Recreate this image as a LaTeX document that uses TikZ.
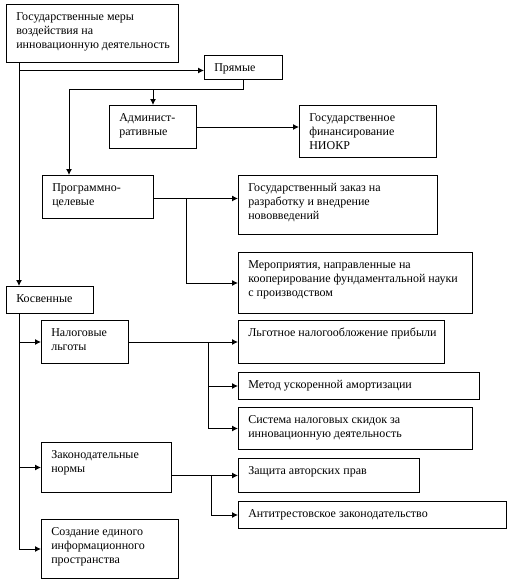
\documentclass[tikz,border=0pt]{standalone}
\usepackage{fontspec}
\setmainfont{Liberation Serif}
\usetikzlibrary{arrows.meta,calc}
\begin{document}
\begin{tikzpicture}[x=0.75pt,y=-0.75pt,
  box/.style={draw,line width=0.75pt,inner sep=0pt,anchor=north west},
  txt/.style={inner sep=0pt,anchor=north west,align=left,font=\fontsize{9}{10.5}\selectfont},
  arr/.style={line width=0.75pt,-{Latex[length=4.5pt,width=4.5pt]}},
  ln/.style={line width=0.75pt}]
\useasboundingbox (0,0) rectangle (513,586);
\newcommand{\mybox}[6]{%
  \node[box,minimum width=#3*0.75pt,minimum height=#4*0.75pt] (#5) at (#1,#2) {};
  \node[txt] (#5t) at ($(#1,#2)+(10,8)$) {#6};}
\mybox{6}{4}{172}{58}{main}{Государственные меры\\воздействия на\\инновационную деятельность}
\mybox{204}{55}{78}{24}{pr}{Прямые}
\mybox{109}{105}{87}{43}{adm}{Админист-\\ративные}
\mybox{299}{105}{137}{52}{fin}{Государственное\\финансирование\\НИОКР}
\mybox{42}{175}{111}{43}{prog}{Программно-\\целевые}
\mybox{238}{175}{199}{59}{zak}{Государственный заказ на\\разработку и внедрение\\нововведений}
\mybox{238}{252}{234}{61}{mer}{Мероприятия, направленные на\\кооперирование фундаментальной науки\\с производством}
\mybox{6}{286}{87}{27}{kos}{Косвенные}
\mybox{41}{320}{87}{43}{nal}{Налоговые\\льготы}
\mybox{238}{320}{206}{43}{lgo}{Льготное налогообложение прибыли}
\mybox{238}{372}{241}{27}{met}{Метод ускоренной амортизации}
\mybox{238}{407}{234}{42}{sis}{Система налоговых скидок за\\инновационную деятельность}
\mybox{41}{442}{130}{50}{zn}{Законодательные\\нормы}
\mybox{238}{458}{181}{34}{zash}{Защита авторских прав}
\mybox{238}{501}{268}{27}{anti}{Антитрестовское законодательство}
\mybox{41}{519}{137}{59}{soz}{Создание единого\\информационного\\пространства}
% coordinates
\coordinate (tx) at (19,0);
\coordinate (j1) at (69,89);
\coordinate (b1) at (186,0);
\coordinate (b2) at (208,0);
\coordinate (b3) at (211,0);
% connectors
\draw[arr] (main.south -| tx) |- ([yshift=-2.25pt]pr.west);
\draw[arr] (main.south -| tx) -- (kos.north -| tx);
\draw[arr] (pr.south) |- (j1) -- (j1 |- prog.north);
\draw[arr] (adm.north |- j1) -- (adm.north);
\draw[arr] (adm.east) -- (adm.east -| fin.west);
\draw[arr] ([yshift=-1.1pt]prog.east) -- ([yshift=-1.1pt]prog.east -| zak.west);
\draw[arr] ([yshift=-1.1pt]prog.east -| b1) |- (mer.west);
\draw[ln] (kos.south -| tx) -- (tx |- soz.west);
\draw[arr] (tx |- nal.west) -- (nal.west);
\draw[arr] (tx |- zn.west) -- (zn.west);
\draw[arr] (tx |- soz.west) -- (soz.west);
\draw[arr] (nal.east) -- (lgo.west);
\draw[arr] (nal.east -| b2) |- (met.west);
\draw[arr] (nal.east -| b2) |- (sis.west);
\draw[arr] (zn.east |- zash.west) -- (zash.west);
\draw[arr] (zash.west -| b3) |- (anti.west);
\end{tikzpicture}
\end{document}
